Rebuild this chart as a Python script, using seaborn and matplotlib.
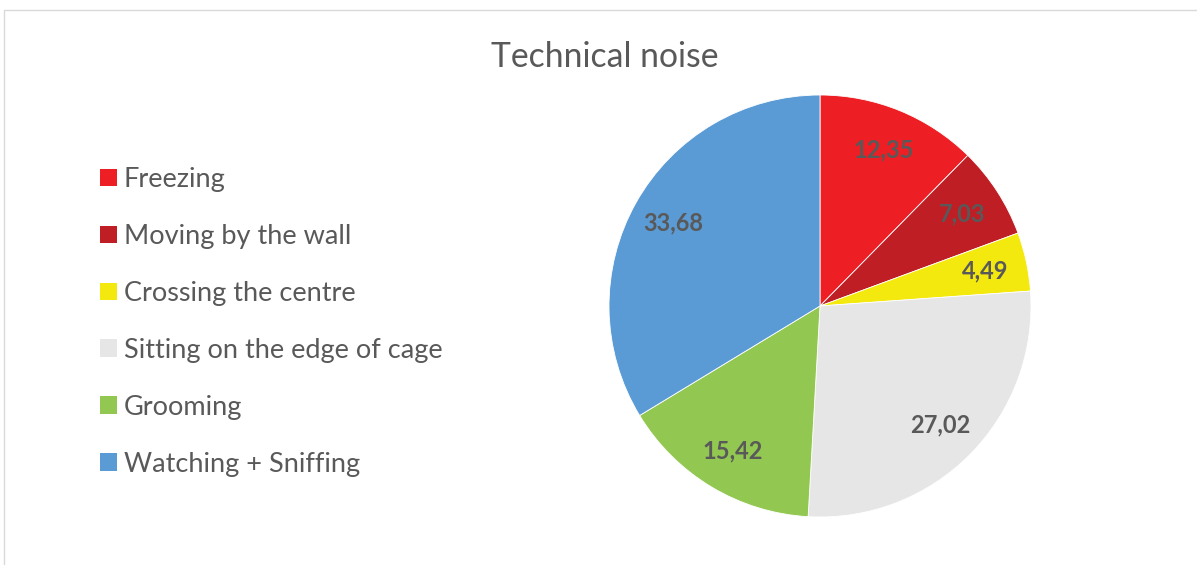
import matplotlib
matplotlib.use("Agg")
import matplotlib.pyplot as plt
from matplotlib.patches import Rectangle, Patch
import seaborn as sns

categories = ["Freezing", "Moving by the wall", "Crossing the centre",
              "Sitting on the edge of cage", "Grooming", "Watching + Sniffing"]
values = [12.35, 7.03, 4.49, 27.02, 15.42, 33.68]
value_labels = ["12,35", "7,03", "4,49", "27,02", "15,42", "33,68"]
colors = ["#ED1F24", "#BE1E24", "#F3E90F", "#E6E6E6", "#92C851", "#5B9BD5"]
title = "Technical noise"

sns.set_theme(style="white")
plt.rcParams['font.family'] = ['Lato', 'DejaVu Sans']

W, H = 1197, 565
fig = plt.figure(figsize=(W / 100, H / 100), dpi=100)
fig.patch.set_facecolor("white")

# pie axes: center (820,306), radius 211 px
cx, cy, r = 820, 306, 211
ax = fig.add_axes([(cx - r) / W, (H - cy - r) / H, 2 * r / W, 2 * r / H])

label_iter = iter(value_labels)
wedges, texts, autotexts = ax.pie(
    values, colors=colors, startangle=90, counterclock=False, radius=1,
    autopct=lambda p: next(label_iter), pctdistance=0.8,
    wedgeprops=dict(linewidth=0.6, edgecolor="white"),
    textprops=dict(color="#595959", fontsize=17, fontweight="bold"))
ax.set_xlim(-1, 1)
ax.set_ylim(-1, 1)
ax.set_aspect("equal")
ax.axis("off")

handles = [Patch(facecolor=c, edgecolor="none") for c in colors]
leg = fig.legend(handles, categories, loc="upper left",
                 bbox_to_anchor=(100 / W, 1 - 167 / H), frameon=False,
                 fontsize=19.5, labelcolor="#595959", handlelength=0.63,
                 handleheight=0.63, handletextpad=0.24, labelspacing=1.18,
                 borderaxespad=0, borderpad=0)

fig.text(605 / W, 1 - 57 / H, title, ha="center", va="center",
         fontsize=24.3, color="#595959")

fig.add_artist(Rectangle((3.5 / W, -0.1), 2, (H - 9.5) / H + 0.1,
                         transform=fig.transFigure, fill=False,
                         edgecolor="#D9D9D9", linewidth=1))

fig.savefig("out.png", dpi=100, facecolor="white")
